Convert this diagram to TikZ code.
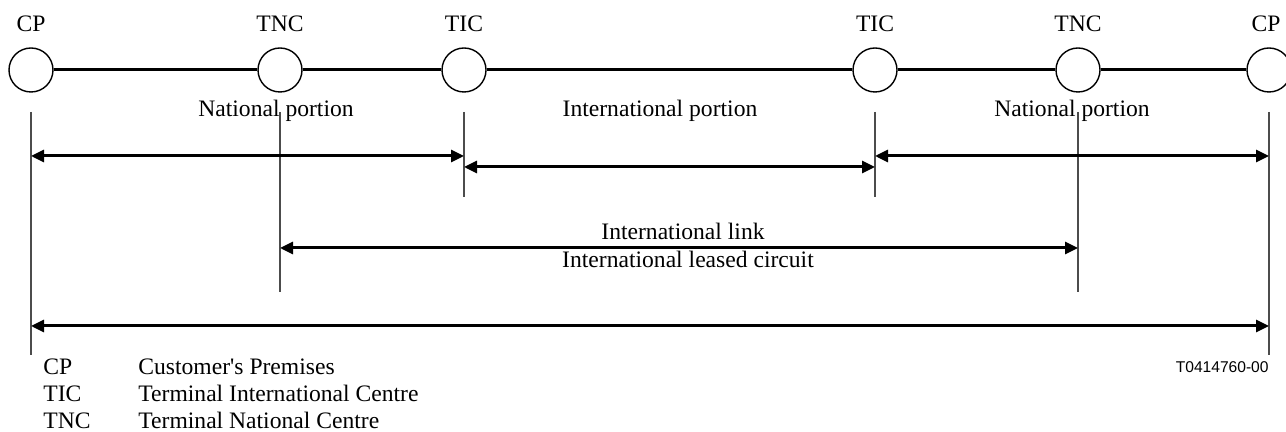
\documentclass[tikz,border=0pt]{standalone}
\usepackage{fontspec}
\setmainfont{Liberation Serif}
\newfontfamily\refsans{Liberation Sans}
\usetikzlibrary{arrows.meta}

\tikzset{
  centre/.style={draw, circle, minimum size=22pt, inner sep=0pt, line width=0.7pt},
  tag/.style={anchor=base, inner sep=0pt},
  limit/.style={line width=0.6pt, black!70},
  trunk/.style={line width=1.5pt},
  span/.style={{Triangle[length=6.5pt,width=6pt]}-{Triangle[length=6.5pt,width=6pt]}, line width=1.5pt}
}

\begin{document}
\begin{tikzpicture}[x=0.5pt, y=-0.5pt, font=\fontsize{11.8}{14}\selectfont]
\useasboundingbox (0,0) rectangle (1286,432);
% centres along the circuit
\foreach \x/\lx/\n/\t in {31/31/cpa/CP, 280/280/tnca/TNC, 464/464/tica/TIC, 875/875/ticb/TIC, 1078/1078/tncb/TNC, 1269/1266/cpb/CP} {
  \node[centre] (\n) at (\x,70) {};
  \node[tag] (\n lbl) at (\lx,32) {\t};
}
\draw [trunk] (cpa) -- (tnca) -- (tica) -- (ticb) -- (tncb) -- (cpb);
% extension lines
\foreach \n/\e in {cpa/355, tnca/292, tica/197, ticb/197, tncb/292, cpb/355}
  \draw [limit] (\n |- 0,112) -- (\n |- 0,\e);
\node[tag] (natl) at (276,117) {National portion};
\node[tag] (intl) at (660,117) {International portion};
\node[tag] (natr) at (1072,117) {National portion};
\draw [span] (cpa |- 0,156) -- (tica |- 0,156);
\draw [span] (tica |- 0,167) -- (ticb |- 0,167);
\draw [span] (ticb |- 0,156) -- (cpb |- 0,156);
\draw [span] (tnca |- 0,248) -- (tncb |- 0,248);
\node[tag] (ilink) at (683,240) {International link};
\node[tag] (ilease) at (688,268) {International leased circuit};
\draw [span] (cpa |- 0,326) -- (cpb |- 0,326);
% legend
\foreach \a/\t/\y [count=\i] in {CP/Customer\textquotesingle s Premises/375, TIC/Terminal International Centre/402, TNC/Terminal National Centre/429} {
  \node[tag, anchor=base west] (key\i) at (43,\y) {\a};
  \node[tag, anchor=base west] (desc\i) at (138,\y) {\t};
}
\node[tag, anchor=base east, font=\refsans\fontsize{7.8}{9}\selectfont] (figno) at (1269,373) {T0414760-00};
\end{tikzpicture}
\end{document}
